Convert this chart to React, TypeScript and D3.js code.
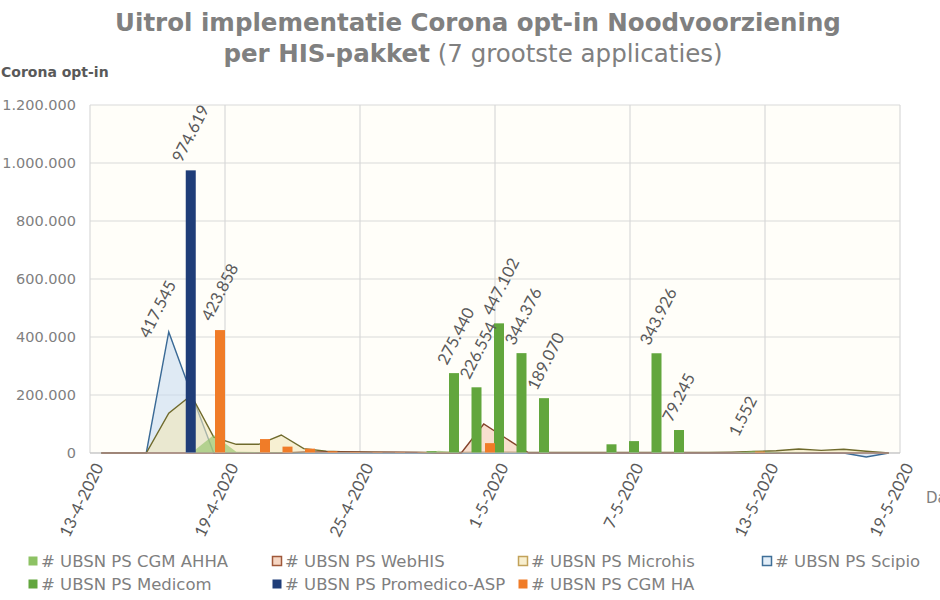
import * as d3 from 'd3';
import React from 'react';

// days 13-4-2020 .. 18-5-2020 (index 0 = 13-4)
const startDay = "13-4-2020";
const endDay = "19-5-2020";
const tickLabels = ["13-4-2020", "19-4-2020", "25-4-2020", "1-5-2020", "7-5-2020", "13-5-2020", "19-5-2020"];
const yTicks = [0, 200000, 400000, 600000, 800000, 1000000, 1200000];

const cgmAhha = [0, 0, 0, 0, 0, 62000, 4000, 3000, 3000, 2000, 0, 0, 0, 0, 0, 8000, 0, 0, 0, 0, 0, 0, 0, 0, 0, 0, 0, 0, 0, 8000, 3000, 2000, 0, 0, 0, 0];
const webHis = [0, 0, 0, 0, 0, 0, 0, 0, 0, 3000, 4000, 4000, 3000, 3000, 2000, 0, 0, 100000, 50000, 0, 0, 0, 0, 0, 0, 0, 0, 0, 0, 0, 0, 0, 0, 0, 0, 0];
const microhis = [0, 0, 0, 137000, 199000, 55000, 30000, 30000, 62000, 15000, 6000, 4000, 3000, 2000, 2000, 2000, 2000, 3000, 3000, 2000, 2000, 2000, 2000, 2000, 2000, 2000, 2000, 2000, 3000, 5000, 8000, 14000, 9000, 13000, 6000, 0];
const scipio = [0, 0, 0, 417545, 205000, 0, 0, 0, 0, 0, 0, 0, 0, 0, 0, 0, 0, 0, 0, 0, 0, 0, 0, 0, 0, 0, 0, 0, 0, 0, 0, 0, 0, 0, -14000, 0];
const medicom = [0, 0, 0, 0, 0, 0, 0, 0, 0, 0, 0, 0, 0, 0, 0, 6000, 275440, 226554, 447102, 344376, 189070, 0, 0, 30000, 41000, 343926, 79245, 0, 0, 1552, 0, 0, 0, 0, 0, 0];
const promedico = [0, 0, 0, 0, 974619, 0, 0, 0, 0, 0, 0, 0, 0, 0, 0, 0, 0, 0, 0, 0, 0, 0, 0, 0, 0, 0, 0, 0, 0, 0, 0, 0, 0, 0, 0, 0];
const cgmHa = [0, 0, 0, 0, 0, 423858, 0, 48000, 22000, 15000, 6000, 3000, 2000, 2000, 1500, 1000, 0, 34000, 0, 0, 0, 0, 0, 0, 0, 0, 0, 0, 0, 5000, 0, 0, 0, 0, 0, 0];

// which points carry a data label
const medicomLabels = [16, 17, 18, 19, 20, 25, 26, 29];
const promedicoLabels = [4];
const cgmHaLabels = [5];
const scipioLabels = [3];

const legendNames = [
  "# UBSN PS CGM AHHA", "# UBSN PS WebHIS", "# UBSN PS Microhis", "# UBSN PS Scipio",
  "# UBSN PS Medicom", "# UBSN PS Promedico-ASP", "# UBSN PS CGM HA"
];

function App() {
  const ref = React.useRef(null);

  React.useEffect(() => {
    const svg = d3.select(ref.current);
    svg.selectAll("*").remove();

    const width = 940, height = 600;
    const left = 90, right = 900, top = 105, bottom = 453;
    const parse = d3.timeParse("%d-%m-%Y");
    const days = d3.timeDay.range(parse(startDay), parse(endDay));
    const fmt = d3.formatLocale({ decimal: ",", thousands: ".", grouping: [3], currency: ["", ""] }).format(",");

    const x = d3.scaleTime().domain([parse(startDay), parse(endDay)]).range([left, right]);
    const y = d3.scaleLinear().domain([0, 1200000]).range([bottom, top]);
    const dayW = (right - left) / days.length;
    const sub = d3.scalePoint().domain(["medicom", "promedico", "cgmHa"]).range([4, 17.5]);
    const bw = 10;
    const cx = i => x(days[i]) + dayW / 2;
    const grey = "#595959";
    const verdana = "'DejaVu Sans', Verdana, sans-serif";
    const calibri = "Lato, 'Open Sans', sans-serif";

    svg.attr("width", width).attr("height", height);

    // title
    const title = svg.append("g").attr("font-family", verdana).attr("fill", "#808080").attr("text-anchor", "middle");
    title.append("text").attr("x", 478).attr("y", 31).attr("font-size", 24.5).attr("font-weight", "bold")
      .text("Uitrol implementatie Corona opt-in Noodvoorziening");
    const t2 = title.append("text").attr("x", 473).attr("y", 62).attr("font-size", 24.5);
    t2.append("tspan").attr("font-weight", "bold").text("per HIS-pakket");
    t2.append("tspan").text(" (7 grootste applicaties)");

    // y axis title
    svg.append("text").attr("x", 1).attr("y", 77).attr("font-family", verdana)
      .attr("font-size", 14).attr("font-weight", "bold").attr("fill", grey).text("Corona opt-in");

    // plot background
    svg.append("rect").attr("x", left).attr("y", top).attr("width", right - left).attr("height", bottom - top).attr("fill", "#fffef9");

    // gridlines
    svg.append("g").selectAll("line").data(yTicks).join("line")
      .attr("x1", left).attr("x2", right).attr("y1", d => y(d)).attr("y2", d => y(d))
      .attr("stroke", "#d9d9d9").attr("stroke-width", 1.2);
    svg.append("g").selectAll("line").data(tickLabels).join("line")
      .attr("x1", d => x(parse(d))).attr("x2", d => x(parse(d))).attr("y1", top).attr("y2", bottom)
      .attr("stroke", "#d9d9d9").attr("stroke-width", 1.2);

    // y axis labels
    const yAxis = svg.append("g").attr("transform", `translate(${left - 14},0)`)
      .call(d3.axisLeft(y).tickValues(yTicks).tickFormat(d => d === 0 ? "0" : fmt(d)).tickSize(0).tickPadding(0));
    yAxis.select(".domain").remove();
    yAxis.selectAll("text").attr("font-family", verdana).attr("font-size", 14.5).attr("fill", "#7f7f7f");

    // areas
    const areaSeries = [
      { values: scipio, fill: "#c9dcf0", stroke: "#3a6a96" },
      { values: microhis, fill: "#f1e6b8", stroke: "#6f6a2c" },
      { values: webHis, fill: "#f4c9b3", stroke: "#84422a" },
      { values: cgmAhha, fill: "#8dc264", stroke: "none" },
    ];
    const area = d3.area().x((d, i) => cx(i)).y0(y(0)).y1(d => y(d));
    const line = d3.line().x((d, i) => cx(i)).y(d => y(d));
    const ag = svg.append("g");
    areaSeries.forEach(s => {
      ag.append("path").datum(s.values).attr("d", area).attr("fill", s.fill).attr("fill-opacity", 0.6);
      if (s.stroke !== "none")
        ag.append("path").datum(s.values).attr("d", line).attr("fill", "none").attr("stroke", s.stroke).attr("stroke-width", 1.4);
    });

    // bars
    const barSeries = [
      { key: "medicom", values: medicom, color: "#62a63d" },
      { key: "promedico", values: promedico, color: "#1f3d78" },
      { key: "cgmHa", values: cgmHa, color: "#f07c28" },
    ];
    barSeries.forEach(s => {
      svg.append("g").selectAll("rect").data(s.values.map((v, i) => ({ v, i })).filter(d => d.v > 0)).join("rect")
        .attr("x", d => x(days[d.i]) + sub(s.key) - bw / 2)
        .attr("width", bw)
        .attr("y", d => y(d.v))
        .attr("height", d => y(0) - y(d.v))
        .attr("fill", s.color);
    });

    // axis line
    svg.append("line").attr("x1", left).attr("x2", right).attr("y1", bottom).attr("y2", bottom).attr("stroke", "#bfbfbf");

    // data labels
    const labels = [];
    medicomLabels.forEach(i => labels.push({ px: x(days[i]) + sub("medicom"), py: y(medicom[i]), v: medicom[i], dx: -7, dy: -7 }));
    promedicoLabels.forEach(i => labels.push({ px: x(days[i]) + sub("promedico"), py: y(promedico[i]), v: promedico[i], dx: -9, dy: -7 }));
    cgmHaLabels.forEach(i => labels.push({ px: x(days[i]) + sub("cgmHa"), py: y(cgmHa[i]), v: cgmHa[i], dx: -9, dy: -8 }));
    scipioLabels.forEach(i => labels.push({ px: cx(i), py: y(scipio[i]), v: scipio[i], dx: -20, dy: 7 }));
    labels.forEach(l => { if (l.v < 10000) { l.dx = -8; l.dy = -15; } });
    svg.append("g").attr("font-family", calibri).attr("font-size", 16.5).attr("fill", grey)
      .selectAll("text").data(labels).join("text")
      .attr("transform", d => `translate(${d.px + d.dx},${d.py + d.dy}) rotate(-63)`)
      .text(d => fmt(d.v));

    // x axis labels
    svg.append("g").attr("font-family", calibri).attr("font-size", 16.5).attr("fill", grey)
      .attr("text-anchor", "end")
      .selectAll("text").data(tickLabels).join("text")
      .attr("transform", d => `translate(${x(parse(d)) + 14},${bottom + 14}) rotate(-64)`)
      .text(d => d);
    svg.append("text").attr("x", 926).attr("y", 503).attr("font-family", verdana)
      .attr("font-size", 15).attr("fill", "#7f7f7f").text("Datum");

    // legend
    const legendStyle = [
      { fill: "#8dc264", stroke: "none" }, { fill: "#f6d6c3", stroke: "#a0583a" },
      { fill: "#f8efcf", stroke: "#c2a25a" }, { fill: "#e3eef8", stroke: "#3f6f98" },
      { fill: "#62a63d", stroke: "none" }, { fill: "#1f3d78", stroke: "none" }, { fill: "#f07c28", stroke: "none" },
    ];
    const colX = [28, 272, 518, 762];
    const lg = svg.append("g").attr("font-family", verdana).attr("font-size", 16.5).attr("fill", "#7f7f7f");
    legendNames.forEach((name, i) => {
      const gx = colX[i < 4 ? i : i - 4];
      const gy = i < 4 ? 561 : 584;
      lg.append("rect").attr("x", gx + 0.5).attr("y", gy - 4.5).attr("width", 9).attr("height", 9)
        .attr("fill", legendStyle[i].fill).attr("stroke", legendStyle[i].stroke).attr("stroke-width", 1.5);
      lg.append("text").attr("x", gx + 13).attr("y", gy).attr("dy", "0.35em").text(name);
    });
  }, []);

  return (
    <svg ref={ref} style={{ position: "absolute", left: 0, top: 0, background: "#fff" }}></svg>
  );
}

export default App;
